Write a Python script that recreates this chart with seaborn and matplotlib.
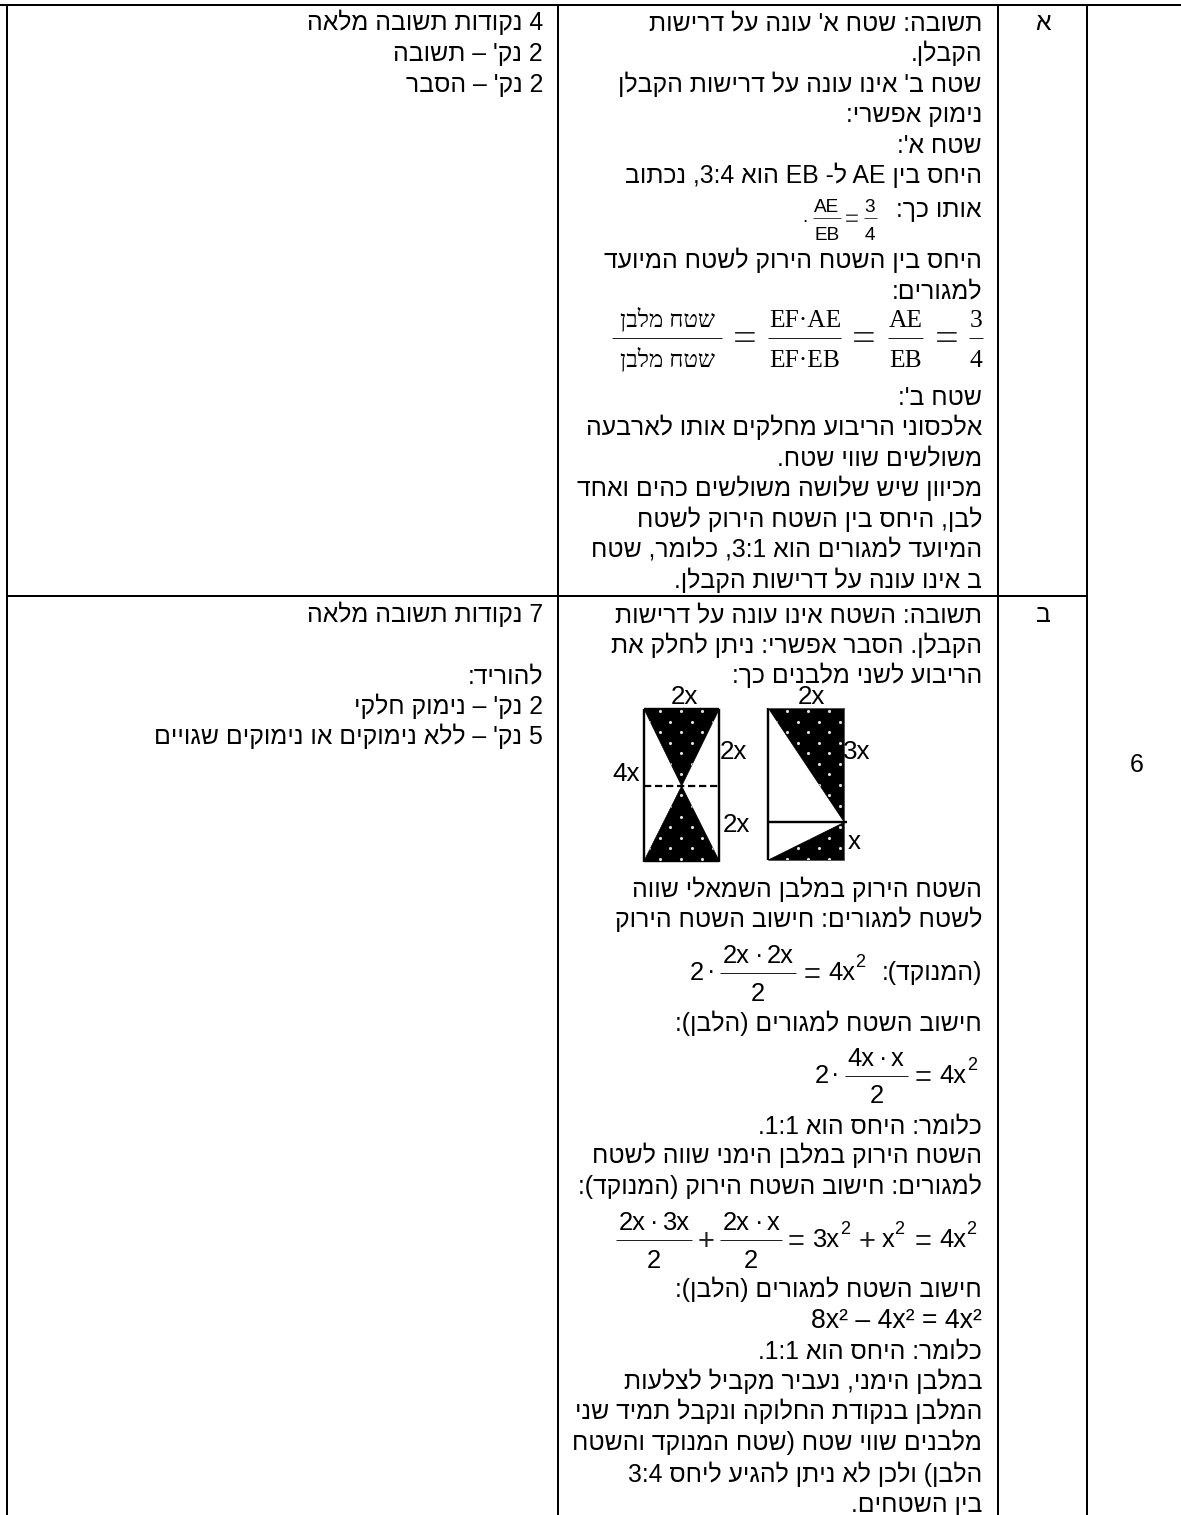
import re
import numpy as np
import matplotlib
matplotlib.use("Agg")
import matplotlib.pyplot as plt
from matplotlib.patches import Polygon
import seaborn as sns

W, H = 1181, 1515
FONT = "Liberation Sans"
SERIF = "Liberation Serif"

# ---------- content ----------
SCORE_A = ["4 נקודות תשובה מלאה", "2 נק' – תשובה", "2 נק' – הסבר"]
SCORE_B = ["7 נקודות תשובה מלאה", "להוריד:", "2 נק' – נימוק חלקי", "5 נק' – ללא נימוקים או נימוקים שגויים"]
ANSWER_A = ["תשובה: שטח א' עונה על דרישות", "הקבלן.", "שטח ב' אינו עונה על דרישות הקבלן",
            "נימוק אפשרי:", "שטח א':", "היחס בין AE ל- EB הוא 3:4, נכתוב", "אותו כך:",
            "היחס בין השטח הירוק לשטח המיועד", "למגורים:", "שטח ב':",
            "אלכסוני הריבוע מחלקים אותו לארבעה", "משולשים שווי שטח.",
            "מכיוון שיש שלושה משולשים כהים ואחד", "לבן, היחס בין השטח הירוק לשטח",
            "המיועד למגורים הוא 3:1, כלומר, שטח", "ב אינו עונה על דרישות הקבלן."]
ANSWER_B = ["תשובה: השטח אינו עונה על דרישות", "הקבלן. הסבר אפשרי: ניתן לחלק את",
            "הריבוע לשני מלבנים כך:", "השטח הירוק במלבן השמאלי שווה",
            "לשטח למגורים: חישוב השטח הירוק", "(המנוקד):", "חישוב השטח למגורים (הלבן):",
            "כלומר: היחס הוא 1:1.", "השטח הירוק במלבן הימני שווה לשטח",
            "למגורים: חישוב השטח הירוק (המנוקד):", "חישוב השטח למגורים (הלבן):",
            "כלומר: היחס הוא 1:1.", "במלבן הימני, נעביר מקביל לצלעות",
            "המלבן בנקודת החלוקה ונקבל תמיד שני", "מלבנים שווי שטח (שטח המנוקד והשטח",
            "הלבן) ולכן לא ניתן להגיע ליחס 3:4", "בין השטחים."]
ROW_LABELS = ["א", "ב"]
QUESTION = "6"
AREA = "שטח מלבן"

# ---------- layout (pixels) ----------
Y_SCORE_A = [30, 61, 91.7]
Y_SCORE_B = [621.7, 683.3, 714, 744.3]
Y_ANS_A = [30, 61, 91.7, 122, 152.7, 183.3, 216.5, 268, 298, 405, 435, 465.7, 496, 527, 557, 588]
Y_ANS_B = [622, 652.7, 683, 896.7, 927.3, 980, 1031, 1133.3, 1163.3, 1194, 1297.3, 1358.3,
           1389, 1419.3, 1450, 1481.7, 1511.7]
X_RULES = [7, 558, 998, 1087]
PX = 0.72  # px -> pt at dpi 100
BODY = 24.7 * PX

sns.set_theme(style="white")
plt.rcParams["font.family"] = [FONT, "DejaVu Sans"]
fig = plt.figure(figsize=(W / 100, H / 100), dpi=100, facecolor="white")
ax = fig.add_axes([0, 0, 1, 1])
ax.set_xlim(0, W)
ax.set_ylim(H, 0)
ax.axis("off")


def visual(s):
    """Logical Hebrew string -> visual order for a left-to-right renderer."""
    atoms = re.findall(r"[A-Za-z0-9:]*[A-Za-z0-9]|.", s)
    swap = {"(": ")", ")": "("}
    return "".join(swap.get(a, a) for a in reversed(atoms))


def put(x, y, s, ha="right", size=BODY, family=FONT, color="black", zorder=5):
    ax.text(x, y, s, ha=ha, va="baseline", fontsize=size, family=family, color=color, zorder=zorder)


def rule(x0, y0, x1, y1, lw=2.0, **kw):
    ax.plot([x0, x1], [y0, y1], color=kw.pop("color", "black"), lw=lw * PX, solid_capstyle="butt", **kw)


# table rules
rule(0, 5, W, 5)
rule(7, 596, 1087, 596)
for x in X_RULES:
    rule(x, 4, x, H)

# plain text
for s, y in zip(SCORE_A, Y_SCORE_A):
    put(543, y, visual(s))
for s, y in zip(SCORE_B, Y_SCORE_B):
    put(543, y, visual(s))
for s, y in zip(ANSWER_A, Y_ANS_A):
    put(982, y, visual(s))
for s, y in zip(ANSWER_B, Y_ANS_B):
    put(982, y, visual(s))
put(1043, 30, ROW_LABELS[0], ha="center")
put(1043, 622, ROW_LABELS[1], ha="center")
put(1137, 772, QUESTION, ha="center")
put(982, 1327.7, "8x² – 4x² = 4x²", size=26.67 * PX)


# fraction helper: num is a list of (x centre, text) pieces
def frac(x0, x1, ybar, ynum, yden, num, xden, den, size, family=FONT, lw=1.0, color="#222222"):
    rule(x0, ybar, x1, ybar, lw=lw, color=color)
    for xc, t in num:
        put(xc, ynum, t, ha="center", size=size, family=family)
    put(xden, yden, den, ha="center", size=size, family=family)


SMALL = 19 * PX
frac(813, 841, 218, 211.7, 240, [(826.7, "AE")], 826.7, "EB", SMALL, color="#444444")
put(852, 226, "=", ha="center", size=24 * PX, color="#444444")
frac(864, 877, 218, 211.7, 240, [(870, "3")], 870, "4", SMALL, color="#444444")
put(805, 222, ".", ha="center", size=SMALL)

# large serif formula
SER = 25.5 * PX
SEREQ = 42 * PX
frac(612, 722, 337.5, 327, 366.7, [(668, visual(AREA))], 668, visual(AREA), 24 * PX, family=SERIF)
put(744.5, 351, "=", ha="center", size=SEREQ, family=SERIF, color="#222222")
frac(768, 841, 337.5, 327, 366.7, [(805, "EF·AE")], 805, "EF·EB", SER, family=SERIF)
put(864, 351, "=", ha="center", size=SEREQ, family=SERIF, color="#222222")
frac(888, 923, 337.5, 327, 366.7, [(905.7, "AE")], 905.7, "EB", SER, family=SERIF)
put(947, 351, "=", ha="center", size=SEREQ, family=SERIF, color="#222222")
frac(969, 983, 337.5, 327, 366.7, [(976, "3")], 976, "4", SER, family=SERIF)

MATH = 25.5 * PX
SUP = 18 * PX
OPS = 29 * PX


def power(x_right, y, base):
    put(x_right, y, base, ha="right", size=MATH)
    put(x_right + 0.5, y - 13, "2", ha="left", size=SUP)


def op(x, ycentre, s):
    put(x, ycentre + 10, s, ha="center", size=OPS, color="#222222")


# formula 1
put(696.7, 980, "2", ha="center", size=MATH)
put(711, 979, "·", ha="center", size=MATH)
frac(720, 796, 973, 962.7, 1000.7, [(736, "2x"), (759, "·"), (780, "2x")], 758, "2", MATH)
op(811.7, 973, "=")
power(855, 980, "4x")

# formula 2
put(821.7, 1083, "2", ha="center", size=MATH)
put(835, 1082, "·", ha="center", size=MATH)
frac(845, 907.7, 1076, 1065.7, 1103, [(861, "4x"), (882.7, "·"), (897.5, "x")], 876.7, "2", MATH)
op(922.7, 1076, "=")
power(966.7, 1083, "4x")

# formula 3
frac(616, 692.3, 1240, 1230, 1267.7, [(632, "2x"), (654, "·"), (676, "3x")], 654, "2", MATH)
op(705.7, 1240, "+")
frac(720, 781.7, 1240, 1230, 1267.7, [(736, "2x"), (759, "·"), (773.5, "x")], 751, "2", MATH)
op(796, 1240, "=")
power(839.3, 1247, "3x")
op(867, 1240, "+")
power(894, 1247, "x")
op(922.7, 1240, "=")
power(966, 1247, "4x")

# ---------- diagram ----------
L0, L1, LT, LM, LB = 644, 719.3, 709, 786, 861
R0, R1, RT, RM, RB = 768.3, 844.3, 708, 822.3, 860
LMX = (L0 + L1) / 2
shapes = [
    [(L0, LT), (L1, LT), (LMX, LM)],
    [(LMX, LM), (L1, LB), (L0, LB)],
    [(R0, RT), (R1, RT), (R1, RM)],
    [(R0, RB), (R1, RM), (R1, RB)],
]
origins = [(659.7, 711), (659.7, 711), (787, 711), (787, 711)]
for pts, (ox, oy) in zip(shapes, origins):
    poly = Polygon(pts, closed=True, facecolor="black", edgecolor="black", lw=0.5, zorder=2)
    ax.add_patch(poly)
    xs, ys = [], []
    for r in range(15):
        shift = 10.6 if r % 2 else 0
        for c in range(-1, 4):
            xs.append(ox + c * 21.2 + shift)
            ys.append(oy + r * 10.55)
    sns.scatterplot(x=xs, y=ys, ax=ax, color="#e0e0e0", s=5, linewidth=0, zorder=3, legend=False)
    ax.collections[-1].set_clip_path(poly)

# outlines
for x in (L0, L1):
    rule(x, LT, x, LB + 1, lw=2.4)
rule(L0, LT, L1, LT, lw=2.4)
rule(L0, LB, L1, LB, lw=2.4)
ax.plot([L0, L1], [LM, LM], color="black", lw=2.2 * PX, ls=(0, (3.3, 1.7)), zorder=4)
rule(R0, RT, R0, RB, lw=2.4)
rule(R0, RT, R1, RT, lw=1, color="#555555")
rule(R1, RT, R1, RB, lw=1, color="#555555")
rule(R0, RB, R1, RB, lw=1, color="#555555")
rule(R0, RM, 847, RM, lw=2.4, zorder=4)

LAB = 26 * PX
for x, y, s in [(684, 704, "2x"), (733, 759, "2x"), (626, 781, "4x"), (736.7, 831.7, "2x"),
                (811.7, 704, "2x"), (857, 759, "3x"), (854, 849, "x")]:
    put(x, y, s, ha="center", size=LAB)

fig.savefig("out.png", dpi=100, facecolor="white")
